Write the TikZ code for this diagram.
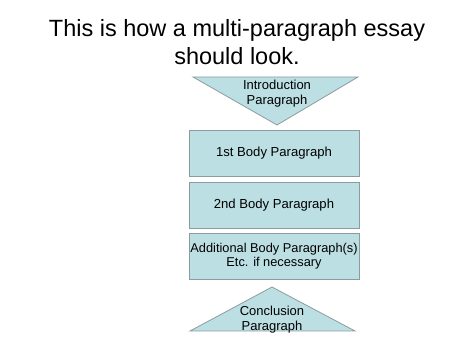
\documentclass[tikz,border=0pt]{standalone}
\usepackage{fontspec}
\setmainfont{Liberation Sans}
\usepackage{tikz}
\usetikzlibrary{positioning}
\definecolor{eblue}{HTML}{BCDFE3}
\definecolor{eedge}{HTML}{8C9C9E}
\tikzset{
  parbox/.style={draw=eedge, fill=eblue, line width=0.8pt,
                 minimum width=170pt, minimum height=46pt, inner sep=0pt,
                 align=center, font=\fontsize{13.1}{14.5}\selectfont},
  tritext/.style={align=center, font=\fontsize{13}{15}\selectfont, inner sep=0pt},
  tri/.style={draw=eedge, fill=eblue, line width=0.8pt, line join=miter},
}
\begin{document}
\begin{tikzpicture}[x=1pt, y=-1pt]
  \useasboundingbox (0,0) rectangle (474,355);

  %% ── title ──
  \node[align=center, font=\fontsize{23.5}{28}\selectfont] (title) at (237,42)
    {This is how a multi-paragraph essay\\should look.};

  %% ── introduction (funnel down) ──
  \draw[tri] (193,77) -- (358,77) -- (277,125) -- cycle;
  \node[tritext] (intro) at (277,94) {Introduction\\Paragraph};

  %% ── body paragraphs ──
  \node[parbox] (body1) at (274,153.5) {1st Body Paragraph};
  \node[parbox] (body2) at (274,205)   {2nd Body Paragraph};
  \node[parbox, font=\fontsize{12.8}{14.5}\selectfont] (body3) at (274,256)
    {Additional Body Paragraph(s)\\Etc. if necessary};

  %% ── conclusion (funnel up) ──
  \draw[tri] (272,287) -- (355,331) -- (190,331) -- cycle;
  \node[tritext] (concl) at (272,320) {Conclusion\\Paragraph};
\end{tikzpicture}
\end{document}
